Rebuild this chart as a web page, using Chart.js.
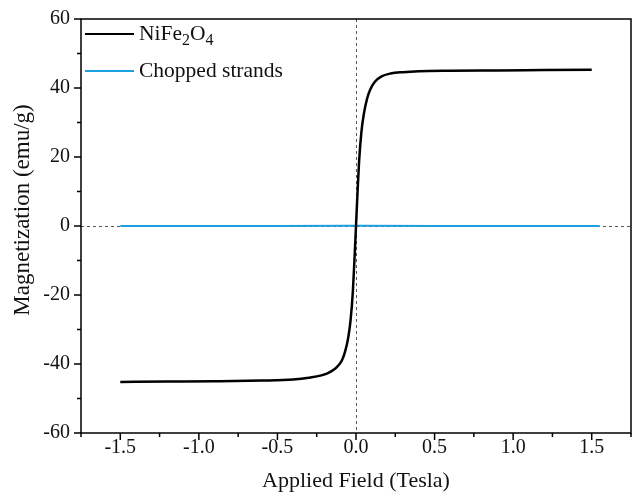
<!DOCTYPE html>
<html lang="en">
<head>
    <meta charset="UTF-8">
    <title>NiFe2O4 hysteresis</title>
    <script src="https://cdn.jsdelivr.net/npm/chart.js"></script>
    <style>
        body { margin: 0; background: #fff; }
        #wrap { position: relative; width: 633px; height: 492px; }
        #legend { position: absolute; left: 85px; top: 19px; font-family: "Liberation Serif", serif; font-size: 21.5px; color: #111; }
        .item { position: relative; height: 37px; line-height: 28px; padding-left: 54px; white-space: nowrap; }
        .item span.ln { position: absolute; left: 0; top: 14px; width: 49px; height: 0; border-top: 2px solid #000; }
        sub { font-size: 16px; vertical-align: -5px; line-height: 0; }
    </style>
</head>
<body>
<div id="wrap">
    <canvas id="magChart" width="633" height="492"></canvas>
    <div id="legend">
        <div class="item"><span class="ln"></span>NiFe<sub>2</sub>O<sub>4</sub></div>
        <div class="item"><span class="ln" style="border-top-color:#1e9fdf"></span>Chopped strands</div>
    </div>
</div>

<script>
    // data
    const fieldNi = [-1.5, -1.2, -0.9, -0.6, -0.4, -0.3, -0.22, -0.16, -0.12, -0.09, -0.07, -0.05, -0.035, -0.02, -0.01, 0,
                     0.01, 0.02, 0.035, 0.05, 0.07, 0.09, 0.12, 0.16, 0.22, 0.3, 0.4, 0.6, 0.9, 1.2, 1.5];
    const magNi = [-45.2, -45.1, -45.0, -44.8, -44.5, -44.0, -43.3, -42.2, -40.8, -39.0, -36.5, -32.5, -27.5, -19, -10, 0,
                   10, 19, 27.5, 32.5, 36.8, 39.5, 41.8, 43.3, 44.2, 44.6, 44.85, 45.0, 45.1, 45.2, 45.3];
    const fieldCs = [-1.5, -1.0, -0.5, -0.05, 0, 0.05, 0.5, 1.0, 1.55];
    const magCs = [0, 0, 0, 0.05, 0.1, 0.05, 0, 0, 0];

    const xTicks = [-1.5, -1.0, -0.5, 0, 0.5, 1.0, 1.5];
    const yTicks = [-60, -40, -20, 0, 20, 40, 60];

    const toXY = (xs, ys) => xs.map((x, i) => ({ x: x, y: ys[i] }));

    const serif = "'Liberation Serif', 'Times New Roman', serif";

    // frame, zero lines, tick marks (major long, minor short) and y title
    const decor = {
        id: 'decor',
        beforeDatasetsDraw(chart) {
            const { ctx, chartArea: a, scales: { x, y } } = chart;
            ctx.save();
            ctx.strokeStyle = '#555';
            ctx.lineWidth = 1;
            ctx.setLineDash([3, 3]);
            ctx.beginPath();
            const x0 = Math.round(x.getPixelForValue(0)) + 0.5;
            const y0 = Math.round(y.getPixelForValue(0)) + 0.5;
            ctx.moveTo(x0, a.top); ctx.lineTo(x0, a.bottom);
            ctx.moveTo(a.left, y0); ctx.lineTo(a.right, y0);
            ctx.stroke();
            ctx.restore();
        },
        afterDraw(chart) {
            const { ctx, chartArea: a, scales: { x, y } } = chart;
            ctx.save();
            ctx.strokeStyle = '#000';
            ctx.lineWidth = 1.5;
            ctx.strokeRect(a.left, a.top, a.right - a.left, a.bottom - a.top);
            ctx.beginPath();
            for (let v = -60; v <= 60; v += 10) {
                const p = y.getPixelForValue(v);
                const len = v % 20 === 0 ? 7 : 4;
                ctx.moveTo(a.left, p); ctx.lineTo(a.left - len, p);
            }
            for (let k = -7; k <= 7; k++) {
                const p = x.getPixelForValue(k * 0.25);
                const len = k % 2 === 0 ? 7 : 4;
                ctx.moveTo(p, a.bottom); ctx.lineTo(p, a.bottom + len);
            }
            ctx.stroke();

            // y axis title, sits a little above the middle like the original
            ctx.translate(23, 210);
            ctx.rotate(-Math.PI / 2);
            ctx.fillStyle = '#111';
            ctx.font = '23px ' + serif;
            ctx.textAlign = 'center';
            ctx.textBaseline = 'middle';
            ctx.fillText('Magnetization (emu/g)', 0, 0);
            ctx.restore();
        }
    };

    const ctx = document.getElementById('magChart').getContext('2d');
    const chart = new Chart(ctx, {
        type: 'scatter',
        data: {
            datasets: [
                {
                    label: 'NiFe2O4',
                    data: toXY(fieldNi, magNi),
                    showLine: true,
                    borderColor: '#000',
                    borderWidth: 2.5,
                    pointRadius: 0,
                    cubicInterpolationMode: 'monotone'
                },
                {
                    label: 'Chopped strands',
                    data: toXY(fieldCs, magCs),
                    showLine: true,
                    borderColor: '#1e9fdf',
                    borderWidth: 2,
                    pointRadius: 0
                }
            ]
        },
        options: {
            responsive: false,
            animation: false,
            layout: { padding: { left: 0, right: 2, top: 19, bottom: 0 } },
            plugins: { legend: { display: false }, tooltip: { enabled: false } },
            scales: {
                x: {
                    type: 'linear',
                    min: -1.75,
                    max: 1.75,
                    afterBuildTicks: (s) => { s.ticks = xTicks.map(v => ({ value: v })); },
                    afterFit: (s) => { s.height = 59; s.paddingLeft = 0; s.paddingRight = 0; },
                    grid: { drawOnChartArea: false, drawTicks: false },
                    border: { display: false },
                    ticks: {
                        padding: 3,
                        color: '#111',
                        font: { family: serif, size: 20 },
                        callback: (v) => Number(v).toFixed(1)
                    },
                    title: {
                        display: true,
                        text: 'Applied Field (Tesla)',
                        color: '#111',
                        font: { family: serif, size: 22 },
                        padding: { top: 0, bottom: -2 }
                    }
                },
                y: {
                    min: -60,
                    max: 60,
                    afterBuildTicks: (s) => { s.ticks = yTicks.map(v => ({ value: v })); },
                    afterFit: (s) => { s.width = 81; s.paddingTop = 0; s.paddingBottom = 0; },
                    grid: { drawOnChartArea: false, drawTicks: false },
                    border: { display: false },
                    ticks: {
                        padding: 11,
                        color: '#111',
                        font: { family: serif, size: 20 }
                    },
                    title: { display: false }
                }
            }
        },
        plugins: [decor]
    });
</script>
</body>
</html>
